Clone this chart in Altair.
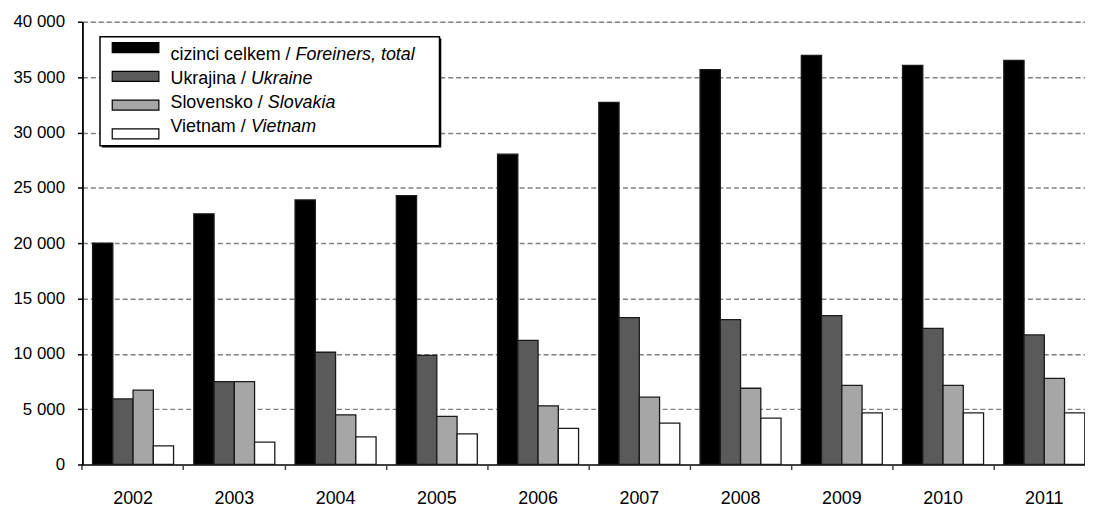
import altair as alt
import pandas as pd

years = ["2002", "2003", "2004", "2005", "2006", "2007", "2008", "2009", "2010", "2011"]
keys = ["total", "ukraine", "slovakia", "vietnam"]
label_cs = ["cizinci celkem / ", "Ukrajina / ", "Slovensko / ", "Vietnam / "]
label_en = ["Foreiners, total", "Ukraine", "Slovakia", "Vietnam"]
colors = ["#000000", "#5a5a5a", "#a6a6a6", "#ffffff"]

total = [20000, 22650, 23900, 24300, 28040, 32710, 35670, 36960, 36060, 36510]
ukraine = [5925, 7490, 10140, 9850, 11220, 13260, 13080, 13440, 12300, 11700]
slovakia = [6710, 7490, 4490, 4345, 5300, 6080, 6885, 7155, 7155, 7780]
vietnam = [1680, 2010, 2490, 2755, 3270, 3745, 4190, 4670, 4670, 4670]
y_ticks = [0, 5000, 10000, 15000, 20000, 25000, 30000, 35000, 40000]

series = {"total": total, "ukraine": ukraine, "slovakia": slovakia, "vietnam": vietnam}
rows = []
for k in keys:
    for yr, v in zip(years, series[k]):
        rows.append({"year": yr, "key": k, "value": v})
df = pd.DataFrame(rows)

FONT = "Liberation Sans"
LEG_FS = 18

# Arial / Liberation Sans advance widths (per 1000 em) for the regular legend text
W = {"a": 556, "c": 500, "e": 556, "i": 222, "j": 222, "k": 500, "l": 222, "m": 833,
     "n": 556, "o": 556, "r": 333, "s": 500, "t": 278, "v": 500, "z": 500,
     "U": 722, "S": 667, "V": 667, " ": 278, "/": 278}
text_x = 88.7


def text_w(s):
    return sum(W.get(ch, 556) for ch in s) * LEG_FS / 1000.0


leg = pd.DataFrame({
    "key": keys,
    "cs": label_cs,
    "en": label_en,
    "ex": [text_x + text_w(s) for s in label_cs],
})

color_scale = alt.Scale(domain=keys, range=colors)

bars = alt.Chart(df).mark_bar(stroke="#1a1a1a", strokeWidth=1.3).encode(
    x=alt.X(
        "year:N",
        sort=years,
        scale=alt.Scale(range=[0, 1020], paddingInner=0.2, paddingOuter=0.1),
        axis=alt.Axis(
            title=None, labelAngle=0, bandPosition=-0.125, grid=False,
            domainColor="#404040", domainWidth=2, tickColor="#404040", tickWidth=1.5,
            tickSize=5, labelPadding=20, labelFontSize=18, labelFont=FONT,
            labelColor="#000000",
        ),
    ),
    xOffset=alt.XOffset("key:N", sort=keys, scale=alt.Scale(domain=keys)),
    y=alt.Y(
        "value:Q",
        scale=alt.Scale(domain=[0, 40000], nice=False),
        axis=alt.Axis(
            title=None, values=y_ticks,
            labelExpr="datum.value >= 1000 ? floor(datum.value / 1000) + ' 000' : '' + datum.value",
            grid=True, gridColor="#808080", gridDash=[5, 3], gridWidth=1.5,
            domainColor="#000000", domainWidth=1.8, tickColor="#000000", tickWidth=1.5,
            tickSize=5, labelPadding=13, labelFontSize=17, labelFont=FONT,
            labelColor="#000000",
        ),
    ),
    color=alt.Color("key:N", scale=color_scale, legend=None),
)

one = pd.DataFrame({"k": [0]})
shadow = alt.Chart(one).mark_rect(fill="#000000").encode(
    x=alt.value(19.5), x2=alt.value(361.5), y=alt.value(16.8), y2=alt.value(126.8)
)
box = alt.Chart(one).mark_rect(fill="#ffffff", stroke="#000000", strokeWidth=1.5).encode(
    x=alt.value(17.7), x2=alt.value(359.7), y=alt.value(15), y2=alt.value(125)
)

leg_y = alt.Y("key:N", scale=alt.Scale(domain=keys, range=[21, 118], paddingInner=0.655, paddingOuter=0), axis=None)

symbols = alt.Chart(leg).mark_rect(stroke="#000000", strokeWidth=1.2).encode(
    x=alt.value(30), x2=alt.value(77), y=leg_y,
    color=alt.Color("key:N", scale=color_scale, legend=None),
)
t_cs = alt.Chart(leg).mark_text(align="left", baseline="middle", font=FONT, fontSize=LEG_FS, color="#000000").encode(
    x=alt.value(text_x), y=leg_y, text="cs:N"
)
t_en = alt.Chart(leg).mark_text(align="left", baseline="middle", font=FONT, fontSize=LEG_FS, fontStyle="italic", color="#000000").encode(
    x=alt.X("ex:Q", scale=None, axis=None), y=leg_y, text="en:N"
)

chart = alt.layer(bars, shadow, box, symbols, t_cs, t_en).resolve_scale(
    x="independent", y="independent"
).properties(
    width=1010,
    height=446,
    autosize=alt.AutoSizeParams(type="none"),
    padding={"left": 75, "top": 12, "right": 0, "bottom": 43},
).configure_view(stroke=None).configure(background="#ffffff")

chart.save("out.html", embed_options={"renderer": "svg", "actions": False})
